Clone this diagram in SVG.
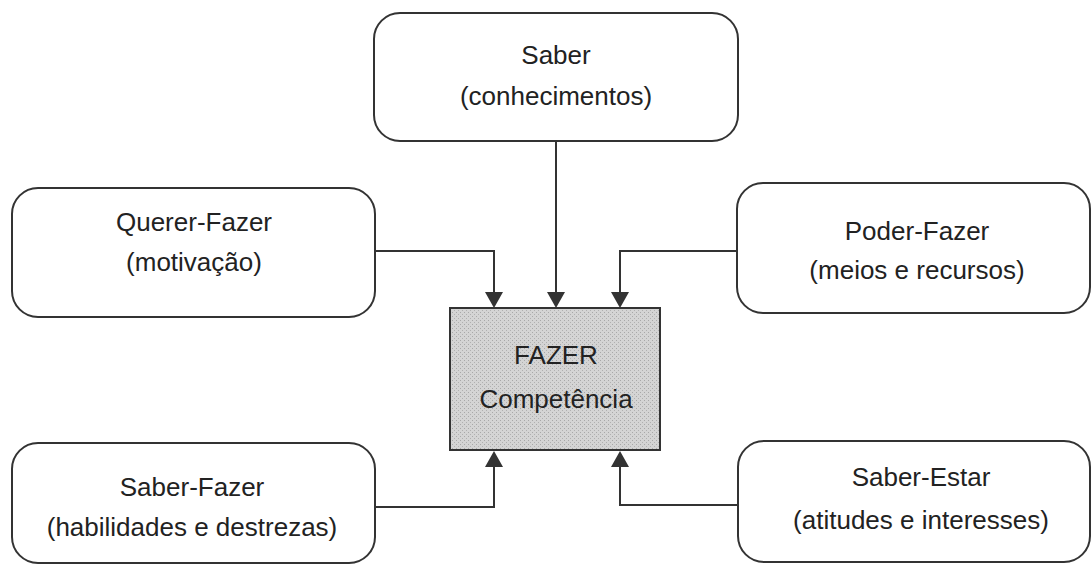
<svg xmlns="http://www.w3.org/2000/svg" width="1092" height="566" viewBox="0 0 1092 566">
<defs>
<style>
.box{fill:#fff;stroke:#333;stroke-width:2}
.core{stroke:#333;stroke-width:2}
.t{font-family:"Liberation Sans",Arial,sans-serif;font-size:26px;fill:#222;text-anchor:middle}
.ln{fill:none;stroke:#333;stroke-width:2}
.ah{fill:#333}
</style>
<pattern id="dots" width="4" height="4" patternUnits="userSpaceOnUse">
<rect width="4" height="4" fill="#d4d4d4"/>
<rect x="0" y="0" width="1" height="1" fill="#a8a8a8"/>
<rect x="2" y="2" width="1" height="1" fill="#b0b0b0"/>
</pattern>
</defs>
<rect width="1092" height="566" fill="#fff"/>
<g id="connectors">
<path class="ln" d="M556 141 V294"/>
<path class="ln" d="M375 251 H494 V294"/>
<path class="ln" d="M737 251 H620 V294"/>
<path class="ln" d="M375 507 H494 V464"/>
<path class="ln" d="M738 505 H620 V464"/>
<path class="ah" d="M485 292 L503 292 L494 308 Z"/>
<path class="ah" d="M547 292 L565 292 L556 308 Z"/>
<path class="ah" d="M611 292 L629 292 L620 308 Z"/>
<path class="ah" d="M485 467 L503 467 L494 451 Z"/>
<path class="ah" d="M611 467 L629 467 L620 451 Z"/>
</g>
<g id="saber">
<rect class="box" x="374" y="13" width="364" height="128" rx="26"/>
<text class="t" x="556" y="64">Saber</text>
<text class="t" x="556" y="105">(conhecimentos)</text>
</g>
<g id="querer-fazer">
<rect class="box" x="12" y="188" width="363" height="129" rx="26"/>
<text class="t" x="194" y="231">Querer-Fazer</text>
<text class="t" x="194" y="271">(motivação)</text>
</g>
<g id="poder-fazer">
<rect class="box" x="737" y="183" width="353" height="130" rx="26"/>
<text class="t" x="917" y="240">Poder-Fazer</text>
<text class="t" x="917" y="279">(meios e recursos)</text>
</g>
<g id="fazer">
<rect class="core" x="450" y="308" width="210" height="142" style="fill:url(#dots)"/>
<text class="t" x="556" y="364">FAZER</text>
<text class="t" x="556" y="408">Competência</text>
</g>
<g id="saber-fazer">
<rect class="box" x="12" y="443" width="363" height="120" rx="26"/>
<text class="t" x="192" y="496">Saber-Fazer</text>
<text class="t" x="192" y="536">(habilidades e destrezas)</text>
</g>
<g id="saber-estar">
<rect class="box" x="738" y="441" width="352" height="121" rx="26"/>
<text class="t" x="921" y="486">Saber-Estar</text>
<text class="t" x="921" y="529">(atitudes e interesses)</text>
</g>
</svg>
